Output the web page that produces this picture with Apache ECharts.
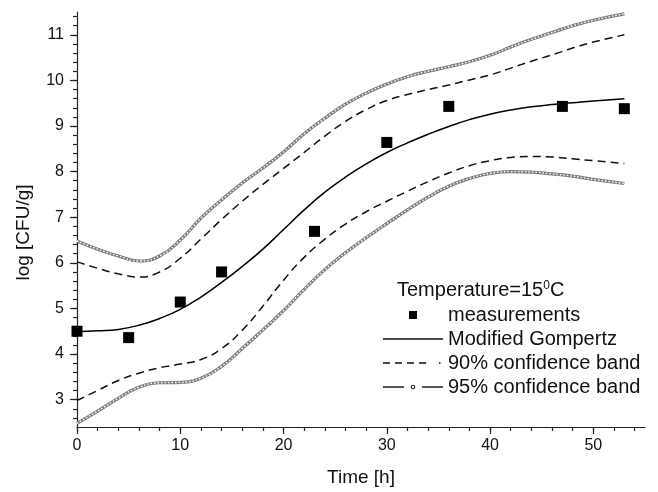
<!DOCTYPE html>
<html>
<head>
<meta charset="utf-8">
<script src="https://cdn.jsdelivr.net/npm/echarts@6/dist/echarts.min.js"></script>
<style>
html,body{margin:0;padding:0;background:#fff;}
#chart{width:658px;height:492px;}
</style>
</head>
<body>
<div id="chart"></div>
<script>
// ---- data ----
var measTime = [0, 5, 10, 14, 23, 30, 36, 47, 53];
var measLog = [4.5, 4.36, 5.14, 5.8, 6.69, 8.64, 9.43, 9.43, 9.38];

var curveTime = [0, 2, 4, 6, 8, 10, 12, 14, 16, 18, 20, 22, 24, 26, 28, 30, 32, 34, 36, 38, 40, 42, 44, 46, 48, 50, 53];
var gompertz = [4.49, 4.51, 4.54, 4.63, 4.78, 4.98, 5.25, 5.57, 5.92, 6.3, 6.73, 7.16, 7.55, 7.88, 8.17, 8.42, 8.63, 8.82, 8.99, 9.14, 9.26, 9.35, 9.42, 9.47, 9.51, 9.55, 9.6];
var upper90 = [6.02, 5.88, 5.76, 5.69, 5.8, 6.1, 6.52, 6.95, 7.35, 7.72, 8.07, 8.42, 8.78, 9.1, 9.36, 9.56, 9.69, 9.8, 9.9, 10.01, 10.12, 10.27, 10.42, 10.56, 10.71, 10.84, 11.0];
var lower90 = [2.98, 3.2, 3.42, 3.58, 3.7, 3.78, 3.88, 4.12, 4.52, 5.05, 5.62, 6.12, 6.52, 6.85, 7.12, 7.35, 7.57, 7.78, 7.97, 8.13, 8.24, 8.31, 8.33, 8.32, 8.28, 8.24, 8.18];
var upper95 = [6.48, 6.3, 6.15, 6.04, 6.15, 6.5, 6.98, 7.38, 7.75, 8.08, 8.43, 8.83, 9.17, 9.48, 9.72, 9.92, 10.08, 10.2, 10.3, 10.41, 10.55, 10.73, 10.9, 11.05, 11.2, 11.32, 11.46];
var lower95 = [2.48, 2.75, 3.03, 3.27, 3.37, 3.38, 3.47, 3.73, 4.12, 4.53, 4.95, 5.42, 5.85, 6.22, 6.55, 6.86, 7.16, 7.44, 7.68, 7.85, 7.96, 8.0, 7.99, 7.95, 7.9, 7.83, 7.74];

var xTickLabels = [0, 10, 20, 30, 40, 50];
var xMinorTicks = [0, 2, 4, 6, 8, 10, 12, 14, 16, 18, 20, 22, 24, 26, 28, 30, 32, 34, 36, 38, 40, 42, 44, 46, 48, 50, 52, 54];
var yTickLabels = [3, 4, 5, 6, 7, 8, 9, 10, 11];
var yMinorTicks = [2.6, 2.8, 3, 3.2, 3.4, 3.6, 3.8, 4, 4.2, 4.4, 4.6, 4.8, 5, 5.2, 5.4, 5.6, 5.8, 6, 6.2, 6.4, 6.6, 6.8, 7, 7.2, 7.4, 7.6, 7.8, 8, 8.2, 8.4, 8.6, 8.8, 9, 9.2, 9.4, 9.6, 9.8, 10, 10.2, 10.4, 10.6, 10.8, 11, 11.2, 11.4];

var legendNames = ['measurements', 'Modified Gompertz', '90% confidence band', '95% confidence band'];

function pairs(xs, ys) { return xs.map(function (x, i) { return [x, ys[i]]; }); }

// ---- chart ----
var FONT = '"Liberation Sans", Arial, sans-serif';
var TXT = '#111';
var AX = '#222';
var chart = echarts.init(document.getElementById('chart'), null, { renderer: 'canvas' });

var baseX = { type: 'value', min: 0, max: 55, position: 'bottom', splitLine: { show: false } };
var baseY = { type: 'value', min: 2.4, max: 11.5, position: 'left', splitLine: { show: false } };

function line95(data) {
  return {
    name: legendNames[3], type: 'line', data: data, smooth: true,
    showSymbol: false, symbol: 'none',
    lineStyle: { color: '#7c7c7c', width: 3.2 }, itemStyle: { color: '#7c7c7c' },
    silent: true, z: 2
  };
}
function holes95(data) {
  return {
    name: '95holes', type: 'line', data: data, smooth: true, showSymbol: false, symbol: 'none',
    lineStyle: { color: '#ffffff', width: 1.4, type: [1.6, 1.9] }, silent: true, z: 3
  };
}
function line90(data) {
  return {
    name: legendNames[2], type: 'line', data: data, smooth: true, showSymbol: false, symbol: 'none',
    lineStyle: { color: '#111', width: 1.5, type: [8, 5] }, itemStyle: { color: '#111' }, silent: true, z: 4
  };
}

// legend glyphs (60 x 14 boxes)
var iconSquare = 'path://M0,0M3,3h8v8h-8zM14,14';
var iconSolid = 'path://M0,0M0,6.25h60v1.5h-60zM60,14';
var iconDashed = 'path://M0,0M0,6.25h7v1.5h-7zM12,6.25h7v1.5h-7zM24,6.25h7v1.5h-7zM36,6.25h7v1.5h-7zM56,6.25h1.5v1.5h-1.5zM60,14';
var iconRing = 'path://M0,0M0,6.25h21v1.5h-21zM39,6.25h21v1.5h-21z' +
  'M32.3,7A2.3,2.3 0 1,1 27.7,7A2.3,2.3 0 1,1 32.3,7Z' +
  'M31.2,7A1.2,1.2 0 1,0 28.8,7A1.2,1.2 0 1,0 31.2,7Z M60,14';

var option = {
  animation: false,
  backgroundColor: '#fff',
  textStyle: { fontFamily: FONT },
  grid: { left: 77, right: 13, top: 12, bottom: 63.5 },
  title: {
    text: 'Temperature=15{s|0}C', left: 397, top: 280, padding: 0,
    textStyle: {
      fontFamily: FONT, fontSize: 20, fontWeight: 'normal', color: TXT,
      rich: { s: { fontFamily: FONT, fontSize: 12, verticalAlign: 'top', color: TXT } }
    }
  },
  legend: {
    data: [
      { name: legendNames[0], icon: iconSquare, itemStyle: { color: '#000' } },
      { name: legendNames[1], icon: iconSolid, itemStyle: { color: '#111' } },
      { name: legendNames[2], icon: iconDashed, itemStyle: { color: '#111' } },
      { name: legendNames[3], icon: iconRing, itemStyle: { color: '#222' } }
    ],
    orient: 'vertical', left: 383, top: 305, padding: 0,
    itemWidth: 60, itemHeight: 14, itemGap: 4,
    textStyle: { fontFamily: FONT, fontSize: 20, color: TXT },
    selectedMode: false
  },
  xAxis: [
    Object.assign({}, baseX, {
      name: 'Time [h]', nameLocation: 'middle', nameGap: 41,
      nameTextStyle: { fontFamily: FONT, fontSize: 19, color: TXT },
      axisLine: { show: true, lineStyle: { color: AX, width: 1.2 } },
      axisTick: { show: true, inside: false, length: 4, customValues: xMinorTicks, lineStyle: { color: AX, width: 1.2 } },
      axisLabel: { show: true, customValues: xTickLabels, fontFamily: FONT, fontSize: 16, color: TXT, margin: 11 }
    }),
    Object.assign({}, baseX, {
      axisLine: { show: false },
      axisTick: { show: true, inside: false, length: 7, customValues: xTickLabels, lineStyle: { color: AX, width: 1.2 } },
      axisLabel: { show: false }
    })
  ],
  yAxis: [
    Object.assign({}, baseY, {
      name: 'log [CFU/g]', nameLocation: 'middle', nameGap: 44, nameRotate: 90,
      nameTextStyle: { fontFamily: FONT, fontSize: 19, color: TXT, padding: [0, 26, 0, 0] },
      axisLine: { show: true, lineStyle: { color: AX, width: 1.2 } },
      axisTick: { show: true, inside: false, length: 4, customValues: yMinorTicks, lineStyle: { color: AX, width: 1.2 } },
      axisLabel: { show: true, customValues: yTickLabels, fontFamily: FONT, fontSize: 16, color: TXT, margin: 13 }
    }),
    Object.assign({}, baseY, {
      axisLine: { show: false },
      axisTick: { show: true, inside: false, length: 7, customValues: yTickLabels, lineStyle: { color: AX, width: 1.2 } },
      axisLabel: { show: false }
    })
  ],
  series: [
    line95(pairs(curveTime, upper95)),
    holes95(pairs(curveTime, upper95)),
    line95(pairs(curveTime, lower95)),
    holes95(pairs(curveTime, lower95)),
    line90(pairs(curveTime, upper90)),
    line90(pairs(curveTime, lower90)),
    {
      name: legendNames[1], type: 'line', data: pairs(curveTime, gompertz), smooth: true,
      showSymbol: false, symbol: 'none', lineStyle: { color: '#000', width: 1.5 }, itemStyle: { color: '#000' }, silent: true, z: 5
    },
    {
      name: legendNames[0], type: 'scatter', data: pairs(measTime, measLog),
      symbol: 'rect', symbolSize: 11, itemStyle: { color: '#000', opacity: 1 }, z: 6
    }
  ]
};
chart.setOption(option);
</script>
</body>
</html>
